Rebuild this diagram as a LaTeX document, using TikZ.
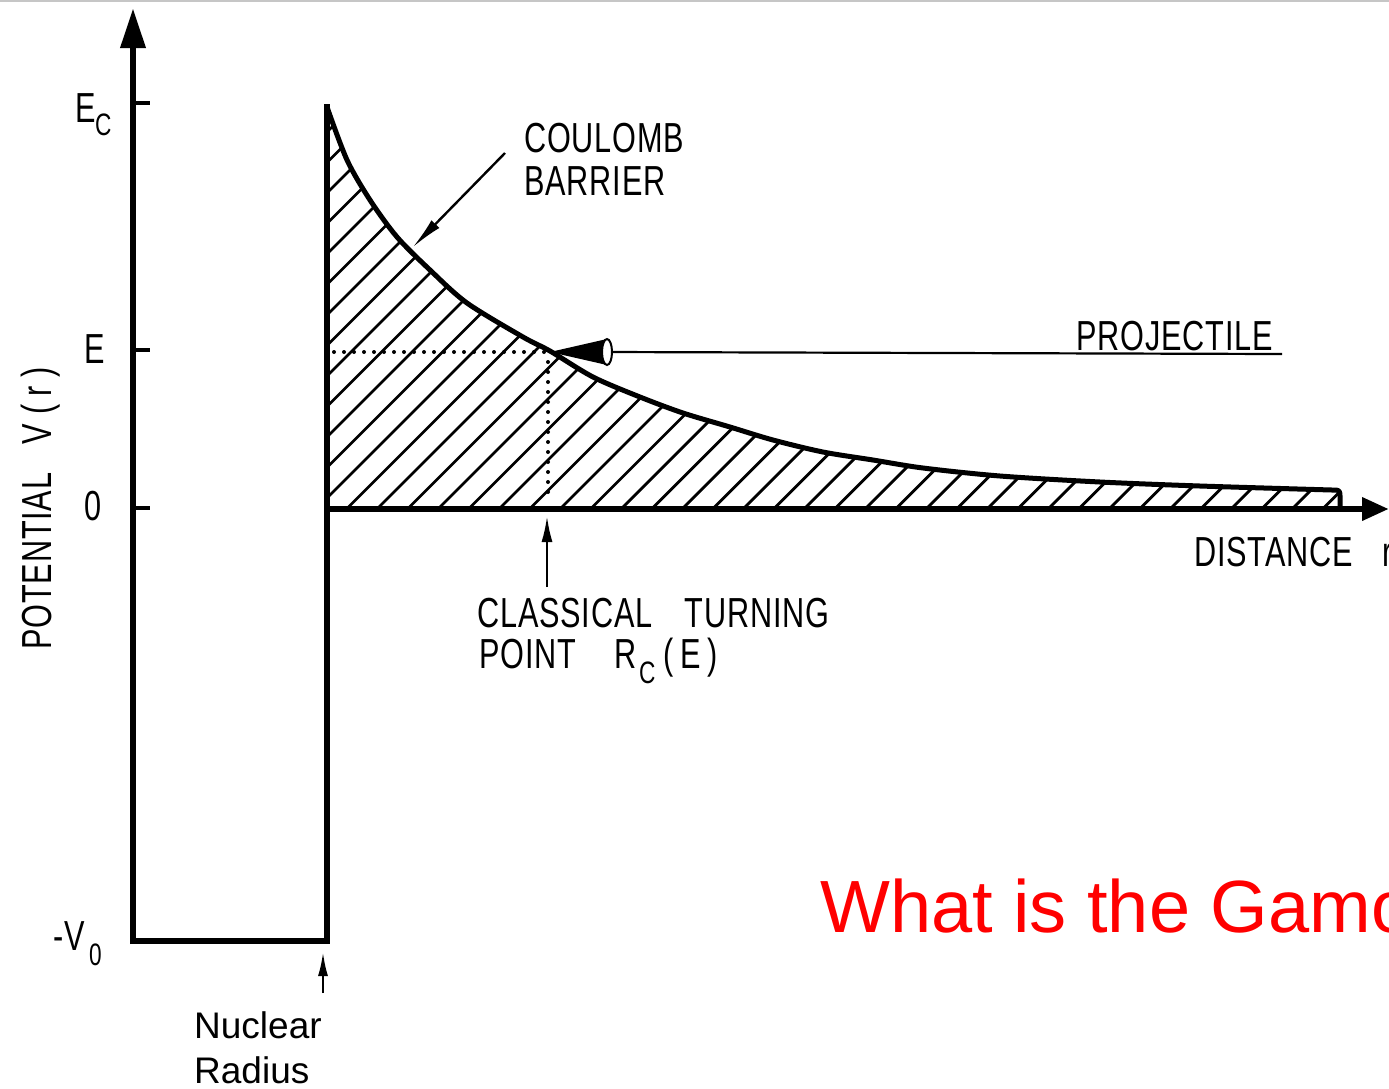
\documentclass[tikz,border=0pt]{standalone}
\usepackage{fontspec}
\setmainfont{Liberation Sans}
\newfontfamily\din[FakeStretch=0.73,LetterSpace=2]{Liberation Sans}
\usetikzlibrary{arrows.meta}
\tikzset{
  lbl/.style={font=\din\fontsize{42}{48}\selectfont, inner sep=0pt, anchor=base west},
  sublbl/.style={font=\din\fontsize{31}{36}\selectfont, inner sep=0pt, anchor=base west},
  plainlbl/.style={font=\fontsize{37}{44}\selectfont, inner sep=0pt, anchor=base west},
  hatchline/.style={line width=2.8pt},
  thinarrow/.style={line width=2.4pt, -{Latex[length=26pt,width=11pt]}},
  dotline/.style={line width=4pt, line cap=round, dash pattern=on 0pt off 10pt},
}
\begin{document}
\begin{tikzpicture}[x=1pt,y=-1pt]
\useasboundingbox (0,0) rectangle (1389,1088);
\clip (0,0) rectangle (1389,1088);
\fill[white] (0,0) rectangle (1389,1088);
\draw[gray!45, line width=2.5pt] (0,1) -- (1389,1);

% hatched region under the barrier
\def\barrierpts{(327,107) (347,160) (370,200) (397,237) (430,270) (467,303) (523,337) (550,351) (593,377) (640,397) (683,413) (730,427) (773,440) (823,452) (873,460) (923,468) (1000,476) (1100,482) (1200,486) (1332,490)}
\begin{scope}
  \clip (327,509) -- plot[smooth,tension=0.5] coordinates {\barrierpts} .. controls (1340,490) .. (1340,498) -- (1340,509) -- cycle;
  \foreach \k in {-22,...,26}
    \draw[hatchline] ({557+30.5*\k},512) -- ++(540,-540);
\end{scope}
\draw[line width=5pt, line join=round] plot[smooth,tension=0.5] coordinates {\barrierpts} .. controls (1340,490) .. (1340,498) -- (1340,509);

% well and axes
\draw[line width=5.5pt, line join=miter] (327,104) -- (327,941) -- (133,941);
\draw[line width=6.5pt, -{Triangle[length=40pt,width=24pt]}] (133,944) -- (133,8);
\draw[line width=6.5pt, -{Triangle[length=27pt,width=22pt]}] (327,509) -- (1389,509);
\draw[line width=4pt] (133,103) -- (150,103);
\draw[line width=4pt] (133,350) -- (150,350);
\draw[line width=4pt] (133,508) -- (150,508);

% dotted E level and turning point
\coordinate (tp) at (550,352);
\draw[dotline] (334,352) -- (tp);
\draw[dotline] (548,362) -- (548,502);

% projectile
\coordinate (cone) at (607,352);
\coordinate (projEnd) at (1282,354);
\draw[line width=2.2pt] (cone) -- (projEnd);
\fill (tp) -- (607,339) -- (607,365) -- cycle;
\draw[line width=2pt, fill=white] (cone) ellipse [x radius=5, y radius=13];

% labels
\node[lbl] (ecE) at (75,122) {E};
\node[sublbl] (ecC) at (95,135) {C};
\node[lbl] (eE) at (84,363) {E};
\node[lbl] (zero) at (84,520) {0};
\node[lbl] (vminus) at (53,950) {-V};
\node[sublbl] (vzero) at (89,965) {0};
\node[lbl, rotate=90] (pot) at (51,650) {POTENTIAL\hspace{28pt}V\hspace{10pt}(\hspace{8pt}r\hspace{8pt})};

\node[lbl] (coulomb) at (524,152) {COULOMB};
\node[lbl] (barrier) at (524,195) {BARRIER};
\coordinate (cbTail) at (505,153);
\coordinate (cbTip) at (413,247);
\draw[thinarrow, -{Latex[length=32pt,width=11pt]}] (cbTail) -- (cbTip);

\node[lbl] (proj) at (1076,350) {PROJECTILE};
\node[lbl] (dist) at (1194,566) {DISTANCE};
\node[lbl] (distr) at (1382,566) {r};

\coordinate (ctpTail) at (547,587);
\coordinate (ctpTip) at (547,516);
\draw[thinarrow] (ctpTail) -- (ctpTip);
\node[lbl] (classical) at (477,627) {CLASSICAL\hspace{32pt}TURNING};
\node[lbl] (point) at (479,668) {POINT};
\node[lbl] (rc) at (614,668) {R};
\node[sublbl] (rcsub) at (639,683) {C};
\node[lbl] (rcE) at (663,668) {(\hspace{7pt}E\hspace{7pt})};

\coordinate (nrTail) at (323,993);
\coordinate (nrTip) at (323,952);
\draw[line width=2.4pt, -{Latex[length=24pt,width=10pt]}] (nrTail) -- (nrTip);
\node[plainlbl] (nuclear) at (194,1038) {Nuclear};
\node[plainlbl] (radius) at (194,1083) {Radius};

\node[anchor=base west, inner sep=0pt, text={rgb,255:red,255;green,0;blue,0}, font=\fontsize{74}{80}\selectfont] (question) at (820,932) {What is the Gamo};
\end{tikzpicture}
\end{document}
